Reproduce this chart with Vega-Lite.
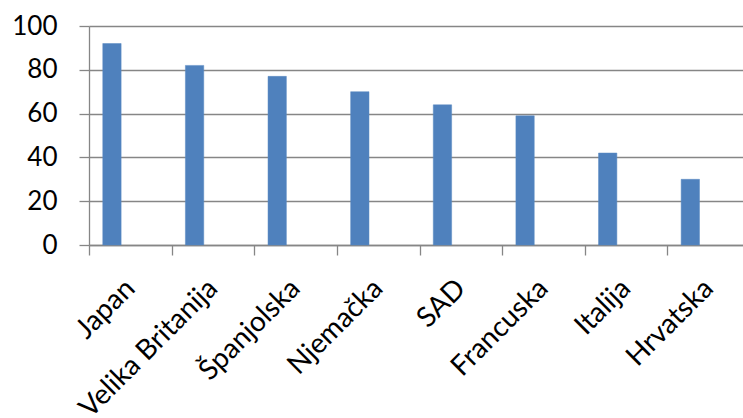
{
  "$schema": "https://vega.github.io/schema/vega-lite/v6.json",
  "autosize": "none",
  "width": 654,
  "height": 219,
  "padding": {"left": 89, "top": 26, "right": 0, "bottom": 173},
  "background": "white",
  "config": {"view": {"stroke": null}},
  "data": {
    "values": [
      {"country": "Japan", "value": 92},
      {"country": "Velika Britanija", "value": 82},
      {"country": "Španjolska", "value": 77},
      {"country": "Njemačka", "value": 70},
      {"country": "SAD", "value": 64},
      {"country": "Francuska", "value": 59},
      {"country": "Italija", "value": 42},
      {"country": "Hrvatska", "value": 30}
    ]
  },
  "mark": {"type": "bar", "color": "#4F81BD", "stroke": "#5B8AC2", "strokeWidth": 0.5},
  "encoding": {
    "x": {
      "field": "country",
      "type": "nominal",
      "sort": null,
      "scale": {"range": [0, 661], "paddingInner": 0, "paddingOuter": 0},
      "axis": {
        "title": null,
        "grid": false,
        "tickBand": "extent",
        "tickSize": 10,
        "tickColor": "#868686",
        "domainColor": "#868686",
        "domainWidth": 1.3,
        "tickWidth": 1.3,
        "labelAngle": -45,
        "labelAlign": "right",
        "labelBaseline": "middle",
        "labelPadding": 29,
        "labelFont": "Lato",
        "labelFontSize": 28,
        "labelColor": "#000000",
        "labelOverlap": false,
        "labelLimit": 0
      }
    },
    "xOffset": {
      "datum": "s1",
      "scale": {"domain": ["s1", "s2", "s3"], "paddingInner": 0, "paddingOuter": 0.75}
    },
    "y": {
      "field": "value",
      "type": "quantitative",
      "scale": {"domain": [0, 100], "nice": false},
      "axis": {
        "title": null,
        "values": [0, 20, 40, 60, 80, 100],
        "grid": true,
        "gridColor": "#868686",
        "gridWidth": 1.3,
        "tickSize": 10,
        "tickColor": "#868686",
        "tickWidth": 1.3,
        "domainColor": "#868686",
        "domainWidth": 1.3,
        "labelPadding": 22,
        "labelFont": "Lato",
        "labelFontSize": 26,
        "labelColor": "#000000"
      }
    }
  }
}
